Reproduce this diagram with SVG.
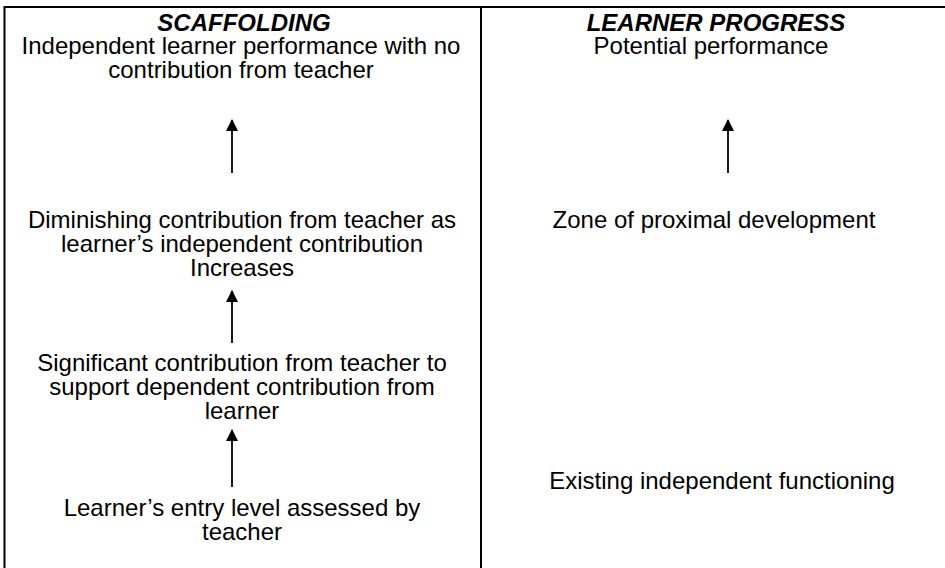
<svg xmlns="http://www.w3.org/2000/svg" width="945" height="568" viewBox="0 0 945 568">
<defs>
<style>
text{font-family:"Liberation Sans",Arial,sans-serif;font-size:24px;fill:#000;text-anchor:middle}
.h{font-weight:bold;font-style:italic}
.b{stroke:#000;stroke-width:2;fill:none}
.c{stroke:#000;stroke-width:1.8;fill:none}
</style>
<marker id="a" viewBox="0 0 12 13" refX="12" refY="6.5" markerWidth="13" markerHeight="12" markerUnits="userSpaceOnUse" orient="auto"><path d="M0,0 L13,6.5 L0,13 z" fill="#000"/></marker>
</defs>
<g id="table">
<path class="b" d="M4.5,568 V7 H945"/>
<path class="b" d="M481,7 V568"/>
</g>
<g id="scaffolding-header"><text class="h" x="244" y="31">SCAFFOLDING</text></g>
<g id="progress-header"><text class="h" x="716" y="31">LEARNER PROGRESS</text></g>
<g id="independent"><text x="241" y="54">Independent learner performance with no</text><text x="241" y="78">contribution from teacher</text></g>
<g id="diminishing"><text x="242" y="228">Diminishing contribution from teacher as</text><text x="242" y="252">learner’s independent contribution</text><text x="242" y="276">Increases</text></g>
<g id="significant"><text x="242" y="371">Significant contribution from teacher to</text><text x="242" y="395">support dependent contribution from</text><text x="242" y="419">learner</text></g>
<g id="entry"><text x="242" y="516">Learner’s entry level assessed by</text><text x="242" y="540">teacher</text></g>
<g id="potential"><text x="711" y="54">Potential performance</text></g>
<g id="zone"><text x="714" y="228">Zone of proximal development</text></g>
<g id="existing"><text x="722" y="489">Existing independent functioning</text></g>
<g id="connectors">
<path class="c" d="M232,173 V120" marker-end="url(#a)"/>
<path class="c" d="M232,343 V291" marker-end="url(#a)"/>
<path class="c" d="M232,487 V430" marker-end="url(#a)"/>
<path class="c" d="M728,173 V120" marker-end="url(#a)"/>
</g>
</svg>
